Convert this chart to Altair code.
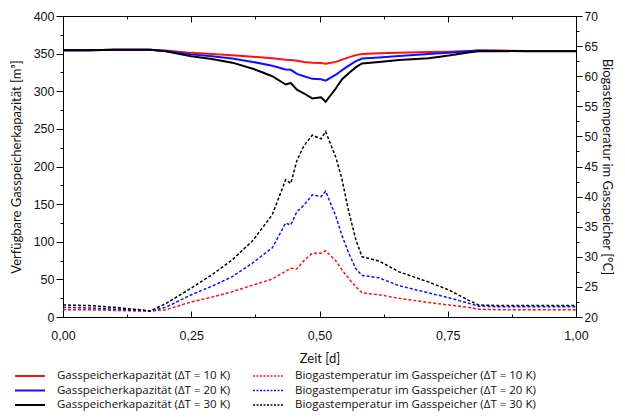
import altair as alt
import pandas as pd

# time axis [d]
t = [0.0, 0.05, 0.10, 0.15, 0.17, 0.20, 0.25, 0.29, 0.33, 0.37, 0.408, 0.434, 0.444, 0.456,
     0.47, 0.486, 0.503, 0.512, 0.532, 0.544, 0.557, 0.571, 0.583, 0.616, 0.655, 0.713,
     0.752, 0.79, 0.81, 0.85, 0.90, 0.95, 1.0]

# available gas storage capacity [m3]
cap_10 = [354.5, 354.5, 355, 355, 355, 354, 351, 349.5, 348, 346, 344, 342, 341.5, 340.5,
          339, 338, 337.5, 336.5, 339, 342, 345, 348, 349.5, 350.5, 351, 352,
          352.5, 353.5, 354, 354, 353.5, 353.5, 353.5]
cap_20 = [354.5, 354.5, 355, 355, 355, 353.5, 349, 346.5, 343.5, 339, 334, 329, 328.5, 323,
          320, 316.5, 316, 314, 322, 328, 334, 340, 343.5, 345, 347, 349.5,
          351, 353, 354, 353.5, 353.5, 353.5, 353.5]
cap_30 = [354.5, 354.5, 355, 355, 355, 353, 346.5, 343, 338, 330, 320, 309, 311, 302,
          297, 290.5, 292, 286, 304, 316, 324, 332, 337, 339, 341.5, 344,
          347.5, 351.5, 353, 353.5, 353, 353, 353]

# biogas temperature in the gas storage [°C]
temp_10 = [21.2, 21.2, 21.1, 21.0, 21.0, 21.2, 22.5, 23.3, 24.2, 25.3, 26.3, 27.6, 28.1, 28.0,
           29.4, 30.6, 30.6, 31.0, 29.3, 27.8, 26.4, 25.0, 24.0, 23.7, 23.1, 22.4,
           22.0, 21.6, 21.3, 21.2, 21.2, 21.2, 21.2]
temp_20 = [21.6, 21.5, 21.3, 21.1, 21.0, 21.6, 23.7, 25.1, 26.7, 29.0, 31.5, 35.6, 35.3, 37.5,
           38.6, 40.3, 40.0, 40.9, 36.7, 33.5, 30.6, 28.0, 26.9, 26.5, 25.2, 24.0,
           23.2, 22.3, 21.8, 21.7, 21.7, 21.7, 21.7]
temp_30 = [22.0, 21.9, 21.6, 21.2, 21.0, 22.2, 24.8, 27.0, 29.5, 32.7, 37.0, 42.8, 42.2, 46.0,
           48.5, 50.2, 49.6, 50.8, 46.5, 42.8, 37.5, 32.8, 30.0, 29.3, 27.5, 25.8,
           24.5, 22.8, 22.0, 21.9, 21.9, 21.9, 21.9]

cap_labels = ["Gasspeicherkapazität (ΔT = 10 K)",
              "Gasspeicherkapazität (ΔT = 20 K)",
              "Gasspeicherkapazität (ΔT = 30 K)"]
temp_labels = ["Biogastemperatur im Gasspeicher (ΔT = 10 K)",
               "Biogastemperatur im Gasspeicher (ΔT = 20 K)",
               "Biogastemperatur im Gasspeicher (ΔT = 30 K)"]
colors = ["#ff1010", "#1010ff", "#000000"]

x_ticks = [i * 0.125 for i in range(9)]
left_ticks = list(range(0, 401, 25))
right_ticks = [20 + 2.5 * i for i in range(21)]

cap_df = pd.concat([
    pd.DataFrame({"t": t, "v": vals, "s": lab})
    for vals, lab in zip([cap_10, cap_20, cap_30], cap_labels)
])
temp_df = pd.concat([
    pd.DataFrame({"t": t, "v": vals, "s": lab})
    for vals, lab in zip([temp_10, temp_20, temp_30], temp_labels)
])

W, H = 513, 301
TICK_FONT = "Liberation Sans"
TXT_FONT = "Lato"
LEG_FONT = "Open Sans"

x_scale = alt.Scale(domain=[0, 1], nice=False, zero=False)
xsize = {"condition": {"test": "datum.value % 0.25 === 0", "value": 6}, "value": 3}

legend_common = dict(
    orient="none", title=None, direction="vertical",
    symbolType="M-3,0H3", symbolSize=100, symbolFillColor="transparent",
    labelFont=LEG_FONT, labelFontSize=11.5, labelColor="#111", labelOffset=21,
    rowPadding=2.5, labelLimit=400,
)

solid = alt.Chart(cap_df).mark_line(strokeWidth=2).encode(
    x=alt.X("t:Q", scale=x_scale,
            axis=alt.Axis(orient="bottom", values=[0, 0.25, 0.5, 0.75, 1.0], ticks=False,
                          labelFlush=False, labelFontSize=12.5,
                          labelExpr="replace(format(datum.value, '.2f'), '.', ',')",
                          title="Zeit [d]", titlePadding=11, labelPadding=12)),
    y=alt.Y("v:Q", scale=alt.Scale(domain=[0, 400], nice=False),
            axis=alt.Axis(orient="left", values=left_ticks, labelFontSize=12.5,
                          tickSize={"condition": {"test": "datum.value % 50 === 0", "value": 7}, "value": 3},
                          labelExpr="datum.value % 50 === 0 ? datum.label : ''",
                          labelPadding=2,
                          title="Verfügbare Gasspeicherkapazität [m³]", titlePadding=10)),
    color=alt.Color("s:N", scale=alt.Scale(domain=cap_labels, range=colors),
                    legend=alt.Legend(legendX=-39, legendY=354, symbolStrokeWidth=2,
                                      **legend_common)),
)

dashed = alt.Chart(temp_df).mark_line(strokeWidth=1.5, strokeDash=[3, 2]).encode(
    x=alt.X("t:Q", scale=x_scale,
            axis=alt.Axis(orient="bottom", offset=-H, values=x_ticks, labels=False,
                          domain=False, tickSize=xsize, title=None)),
    y=alt.Y("v:Q", scale=alt.Scale(domain=[20, 70], nice=False),
            axis=alt.Axis(orient="right", values=right_ticks, labelFontSize=12,
                          tickSize={"condition": {"test": "datum.value % 5 === 0", "value": 6}, "value": 3},
                          labelExpr="datum.value % 5 === 0 ? datum.label : ''",
                          labelPadding=2,
                          title="Biogastemperatur im Gasspeicher [°C]", titlePadding=2)),
    color=alt.Color("s:N", scale=alt.Scale(domain=temp_labels, range=colors),
                    legend=alt.Legend(legendX=199, legendY=354, symbolStrokeWidth=1.5,
                                      symbolDash=[2, 1.5], **legend_common)),
)

ticks_bottom = alt.Chart(cap_df).mark_line(opacity=0).encode(
    x=alt.X("t:Q", scale=x_scale,
            axis=alt.Axis(orient="top", offset=-H, values=x_ticks, labels=False,
                          domain=False, tickSize=xsize, title=None)),
    y=alt.Y("v:Q", axis=None),
    detail="s:N",
)

chart = alt.layer(solid, dashed, ticks_bottom).resolve_scale(
    y="independent", color="independent"
).resolve_axis(x="independent", y="independent").properties(
    width=W, height=H,
    autosize=alt.AutoSizeParams(type="none"),
    padding={"left": 55, "top": 8, "right": 41, "bottom": 94},
).configure_view(stroke="black", strokeWidth=1).configure_axis(
    domainColor="black", tickColor="black", labelColor="#111",
    labelFont=TICK_FONT, labelFontSize=12, grid=False,
    titleFont=TXT_FONT, titleFontSize=13, titleFontWeight="normal", titleColor="#111",
)

chart.save("out.html", embed_options={"renderer": "svg", "actions": False})
